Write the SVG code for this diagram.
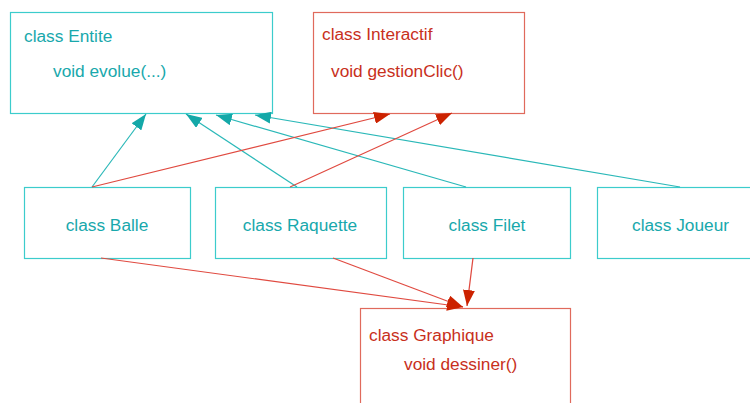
<svg xmlns="http://www.w3.org/2000/svg" width="750" height="403" viewBox="0 0 750 403">
<style>
.cb{fill:#fff;stroke:#3ccccc;stroke-width:1.2}
.rb{fill:#fff;stroke:#e06a5c;stroke-width:1.2}
.ct{font-family:"Liberation Sans",Arial,sans-serif;font-size:17.3px;fill:#18a8ac}
.rt{font-family:"Liberation Sans",Arial,sans-serif;font-size:17.3px;fill:#c8301c}
.cl{stroke:#2ab8b8;stroke-width:1.2;fill:none}
.rl{stroke:#e04a40;stroke-width:1.2;fill:none}
</style>
<defs>
<marker id="ca" viewBox="0 0 16 12" refX="16" refY="6" markerWidth="16" markerHeight="12" markerUnits="userSpaceOnUse" orient="auto"><path d="M0,0 L16,6 L0,12 z" fill="#14a8a8"/></marker>
<marker id="ra" viewBox="0 0 16 12" refX="16" refY="6" markerWidth="16" markerHeight="12" markerUnits="userSpaceOnUse" orient="auto"><path d="M0,0 L16,6 L0,12 z" fill="#cc2200"/></marker>
</defs>
<rect width="750" height="403" fill="#fff"/>
<g id="entite"><rect class="cb" x="10.5" y="12.5" width="262" height="101"/><text class="ct" x="24" y="42">class Entite</text><text class="ct" x="53" y="77">void evolue(...)</text></g>
<g id="interactif"><rect class="rb" x="313.5" y="12.5" width="211" height="101"/><text class="rt" x="322" y="40">class Interactif</text><text class="rt" x="331" y="77">void gestionClic()</text></g>
<g id="balle"><rect class="cb" x="24.5" y="187.5" width="166" height="71"/><text class="ct" x="107" y="231" text-anchor="middle">class Balle</text></g>
<g id="raquette"><rect class="cb" x="215.5" y="187.5" width="171" height="71"/><text class="ct" x="300" y="231" text-anchor="middle">class Raquette</text></g>
<g id="filet"><rect class="cb" x="403.5" y="187.5" width="167" height="71"/><text class="ct" x="487" y="231" text-anchor="middle">class Filet</text></g>
<g id="joueur"><rect class="cb" x="597.5" y="187.5" width="170" height="71"/><text class="ct" x="632" y="231">class Joueur</text></g>
<g id="graphique"><rect class="rb" x="360.5" y="308.5" width="210" height="110"/><text class="rt" x="369" y="341">class Graphique</text><text class="rt" x="404" y="370">void dessiner()</text></g>
<g id="connectors">
<line class="cl" x1="92" y1="187" x2="146" y2="114" marker-end="url(#ca)"/>
<line class="cl" x1="297" y1="187" x2="186" y2="114" marker-end="url(#ca)"/>
<line class="cl" x1="466" y1="187" x2="216" y2="115" marker-end="url(#ca)"/>
<line class="cl" x1="680" y1="187" x2="255" y2="115" marker-end="url(#ca)"/>
<line class="rl" x1="92" y1="187" x2="390" y2="114" marker-end="url(#ra)"/>
<line class="rl" x1="290" y1="187" x2="452" y2="113" marker-end="url(#ra)"/>
<line class="rl" x1="101" y1="258" x2="463" y2="307" marker-end="url(#ra)"/>
<line class="rl" x1="333" y1="258" x2="463" y2="307" marker-end="url(#ra)"/>
<line class="rl" x1="473" y1="258" x2="467" y2="306" marker-end="url(#ra)"/>
</g>
</svg>
